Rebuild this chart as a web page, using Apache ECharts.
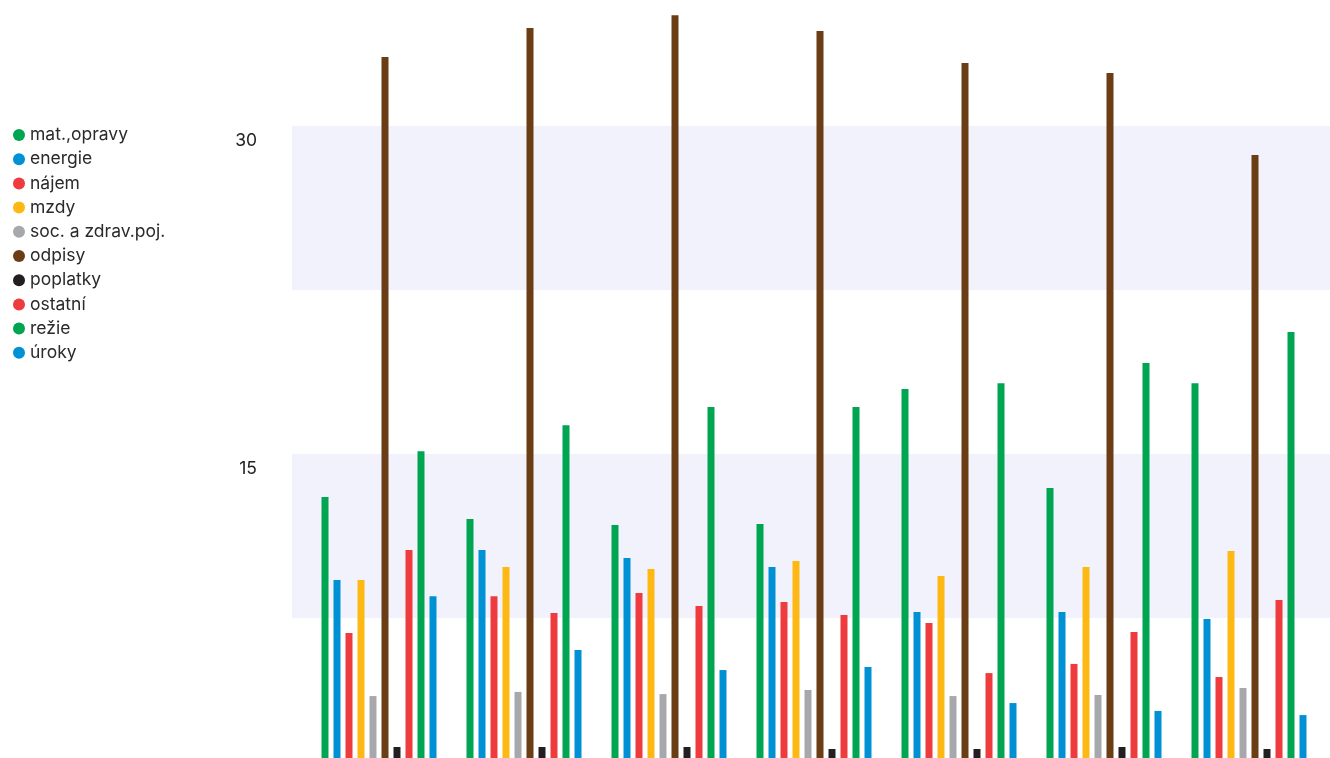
<!DOCTYPE html>
<html>
<head>
<meta charset="utf-8">
<script src="https://cdn.jsdelivr.net/npm/echarts@6/dist/echarts.min.js"></script>
<style>
html,body{margin:0;padding:0;background:#fff;overflow:hidden;width:1330px;height:758px;position:relative;}
#c{position:absolute;left:0;top:-38px;width:1330px;height:820px;}
</style>
</head>
<body>
<div id="c"></div>
<script>
var categories = ['1', '2', '3', '4', '5', '6', '7'];
var seriesNames = ['mat.,opravy', 'energie', 'nájem', 'mzdy', 'soc. a zdrav.poj.', 'odpisy', 'poplatky', 'ostatní', 'režie', 'úroky'];
var matOpravy = [13.03, 12.03, 11.75, 11.80, 17.97, 13.44, 18.24];
var energie = [9.24, 10.61, 10.24, 9.83, 7.77, 7.77, 7.45];
var najem = [6.81, 8.50, 8.64, 8.23, 7.27, 5.40, 4.80];
var mzdy = [9.24, 9.83, 9.74, 10.11, 9.42, 9.83, 10.56];
var socZdrav = [3.93, 4.12, 4.02, 4.21, 3.93, 3.98, 4.30];
var odpisy = [33.15, 34.48, 35.07, 34.34, 32.88, 32.42, 28.67];
var poplatky = [1.60, 1.60, 1.60, 1.51, 1.51, 1.60, 1.51];
var ostatni = [10.61, 7.73, 8.05, 7.64, 4.98, 6.86, 8.32];
var rezie = [15.13, 16.32, 17.15, 17.15, 18.24, 19.16, 20.58];
var uroky = [8.50, 6.04, 5.12, 5.26, 3.61, 3.25, 3.06];
var yTickLabels = [15, 30];

var values = [matOpravy, energie, najem, mzdy, socZdrav, odpisy, poplatky, ostatni, rezie, uroky];
var colors = ['#00a551', '#0091d5', '#ee3b3d', '#fdb813', '#a6a8ab', '#6b3d15', '#231f20', '#ee3b3d', '#00a551', '#0091d5'];

var chart = echarts.init(document.getElementById('c'));
var yCommon = {
  type: 'value', min: 0, max: 37.5, interval: 7.5,
  axisLine: { show: false }, axisTick: { show: false }, splitLine: { show: false }
};
var option = {
  animation: false,
  backgroundColor: '#ffffff',
  textStyle: { fontFamily: 'Inter' },
  legend: {
    orient: 'vertical', left: 13, top: 164, padding: 0,
    icon: 'circle', itemWidth: 12, itemHeight: 12, itemGap: 6.2,
    textStyle: { fontFamily: 'Inter', fontSize: 17.5, color: '#2a2a2a', lineHeight: 16 },
    data: seriesNames
  },
  grid: [
    { left: 292, right: 0, top: 0, bottom: 0, containLabel: false },
    { left: 306.5, right: 8.5, top: 0, bottom: 0, containLabel: false }
  ],
  xAxis: [
    { gridIndex: 0, type: 'category', data: [''], show: false },
    { gridIndex: 1, type: 'category', data: categories, axisLine: { show: false }, axisTick: { show: false }, axisLabel: { show: false } }
  ],
  yAxis: [
    Object.assign({}, yCommon, {
      gridIndex: 0,
      splitArea: { show: true, areaStyle: { color: ['rgba(255,255,255,0)', '#f2f2fd'] } },
      axisLabel: {
        show: true, margin: 35, fontFamily: 'Inter', fontSize: 17.5, color: '#222222',
        verticalAlign: 'top', padding: [6, 0, 0, 0],
        formatter: function (v) { return yTickLabels.indexOf(v) >= 0 ? String(v) : ''; }
      }
    }),
    Object.assign({}, yCommon, { gridIndex: 1, axisLabel: { show: false } })
  ],
  series: seriesNames.map(function (n, i) {
    return {
      name: n, type: 'bar', xAxisIndex: 1, yAxisIndex: 1,
      data: values[i], barWidth: 7, barGap: '71.43%',
      itemStyle: { color: colors[i] }
    };
  })
};
chart.setOption(option);
</script>
</body>
</html>
